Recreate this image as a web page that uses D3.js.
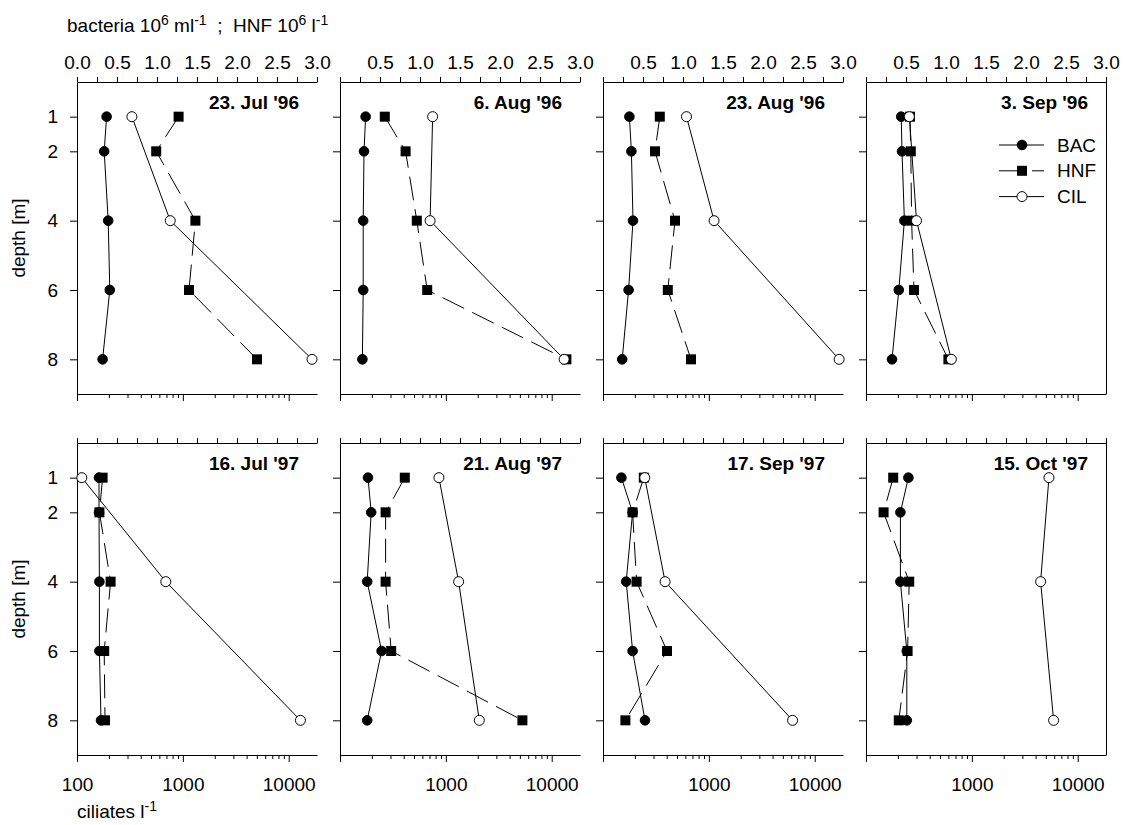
<!DOCTYPE html>
<html>
<head>
<meta charset="utf-8">
<script src="https://cdn.jsdelivr.net/npm/d3@7"></script>
<style>
  body { margin: 0; background: #fff; }
  svg text { font-family: 'Liberation Sans', Arial, sans-serif; font-size: 19px; fill: #000; }
  .axis text { font-family: 'Liberation Sans', Arial, sans-serif; font-size: 19px; fill: #000; }
  .axis path, .axis line { stroke: #000; stroke-width: 1; }
  .title { font-weight: bold; }
</style>
</head>
<body>
<svg id="chart" width="1136" height="825"></svg>
<script>
    // sampling depths (m)
    var depths = [1, 2, 4, 6, 8];
    var cilDepths = [1, 4, 8];

    var dates = ["23. Jul '96", "6. Aug '96", "23. Aug '96", "3. Sep '96",
                 "16. Jul '97", "21. Aug '97", "17. Sep '97", "15. Oct '97"];

    // bacteria 10^6 ml^-1, per date, per depth
    var bac = [
        [0.37, 0.34, 0.39, 0.41, 0.32],
        [0.32, 0.30, 0.29, 0.29, 0.28],
        [0.33, 0.355, 0.375, 0.32, 0.24],
        [0.44, 0.45, 0.48, 0.41, 0.325],
        [0.275, 0.275, 0.28, 0.28, 0.30],
        [0.35, 0.39, 0.34, 0.52, 0.34],
        [0.23, 0.37, 0.29, 0.37, 0.525],
        [0.53, 0.43, 0.43, 0.51, 0.51]
    ];

    // HNF 10^6 l^-1
    var hnf = [
        [1.27, 0.99, 1.48, 1.40, 2.25],
        [0.56, 0.82, 0.96, 1.09, 2.83],
        [0.71, 0.65, 0.90, 0.81, 1.10],
        [0.55, 0.56, 0.57, 0.60, 1.03],
        [0.32, 0.28, 0.42, 0.34, 0.35],
        [0.81, 0.57, 0.57, 0.64, 2.28],
        [0.51, 0.37, 0.42, 0.80, 0.28],
        [0.34, 0.22, 0.54, 0.52, 0.41]
    ];

    // ciliates l^-1 at 1, 4, 8 m
    var cil = [
        [330, 760, 16600],
        [750, 710, 13100],
        [615, 1120, 17000],
        [257, 300, 640],
        [111, 690, 12900],
        [860, 1320, 2070],
        [248, 386, 6180],
        [5350, 4460, 5920]
    ];

    var topTicks = [0, 0.25, 0.5, 0.75, 1, 1.25, 1.5, 1.75, 2, 2.25, 2.5, 2.75, 3];
    var topTickLabels = ["0.0", "0.5", "1.0", "1.5", "2.0", "2.5", "3.0"];
    var cilTickLabels = [100, 1000, 10000];
    var depthTicks = [1, 2, 4, 6, 8];
    var legendNames = ["BAC", "HNF", "CIL"];

    var panelW = 240, panelH = 312;
    var left0 = 77, top0 = 82, colStep = 263, rowStep = 361;

    var svg = d3.select('#chart');

    var x = d3.scaleLinear().domain([0, 3]).range([0, panelW]);
    var xc = d3.scaleLog().domain([100, 18500]).range([0, panelW]);
    var y = d3.scaleLinear().domain([0, 9]).range([0, panelH]);

    var lineBH = d3.line()
        .x(function (d) { return x(d.v); })
        .y(function (d) { return y(d.d); });
    var lineC = d3.line()
        .x(function (d) { return xc(d.v); })
        .y(function (d) { return y(d.d); });

    function circle(g, cx, cy, filled) {
        g.append('circle')
            .attr('cx', cx).attr('cy', cy)
            .attr('r', filled ? 4.8 : 5)
            .attr('fill', filled ? '#000' : '#fff')
            .attr('stroke', '#000').attr('stroke-width', 1);
    }
    function square(g, cx, cy) {
        g.append('rect')
            .attr('x', cx - 5).attr('y', cy - 5)
            .attr('width', 10).attr('height', 10)
            .attr('fill', '#000');
    }

    dates.forEach(function (date, i) {
        var col = i % 4, row = Math.floor(i / 4);
        var g = svg.append('g')
            .attr('transform', 'translate(' + (left0 + col * colStep) + ',' + (top0 + row * rowStep) + ')');

        // top axis (bacteria / HNF)
        g.append('g').attr('class', 'axis')
            .call(d3.axisTop(x).tickValues(topTicks).tickSize(5).tickSizeOuter(0).tickPadding(8)
                .tickFormat(function (d) {
                    if (row !== 0 || d % 0.5 !== 0) return '';
                    if (col > 0 && d === 0) return '';
                    return topTickLabels[d / 0.5];
                }));

        // bottom axis (ciliates, log)
        var bottom = g.append('g').attr('class', 'axis')
            .attr('transform', 'translate(0,' + panelH + ')')
            .call(d3.axisBottom(xc).tickValues(xc.ticks()).tickSize(7).tickSizeOuter(0).tickPadding(16)
                .tickFormat(function (d) {
                    if (row !== 1 || cilTickLabels.indexOf(d) < 0) return '';
                    if (col > 0 && d === 100) return '';
                    return d;
                }));
        bottom.selectAll('.tick line')
            .attr('y2', function (d) { return cilTickLabels.indexOf(d) < 0 ? 4 : 7; });

        // depth axis
        g.append('g').attr('class', 'axis')
            .call(d3.axisLeft(y).tickValues(depthTicks).tickSize(7).tickSizeOuter(0).tickPadding(12)
                .tickFormat(function (d) { return col === 0 ? d : ''; }));

        if (col === 3) {
            g.append('line')
                .attr('x1', panelW + 0.5).attr('x2', panelW + 0.5)
                .attr('y1', 0).attr('y2', panelH)
                .attr('stroke', '#000');
        }

        var bacPts = depths.map(function (d, k) { return { d: d, v: bac[i][k] }; });
        var hnfPts = depths.map(function (d, k) { return { d: d, v: hnf[i][k] }; });
        var cilPts = cilDepths.map(function (d, k) { return { d: d, v: cil[i][k] }; });

        g.append('path').attr('d', lineBH(bacPts))
            .attr('fill', 'none').attr('stroke', '#000').attr('stroke-width', 1);
        bacPts.forEach(function (p) { circle(g, x(p.v), y(p.d), true); });

        g.append('path').attr('d', lineBH(hnfPts))
            .attr('fill', 'none').attr('stroke', '#000').attr('stroke-width', 1)
            .attr('stroke-dasharray', '24,9');
        hnfPts.forEach(function (p) { square(g, x(p.v), y(p.d)); });

        g.append('path').attr('d', lineC(cilPts))
            .attr('fill', 'none').attr('stroke', '#000').attr('stroke-width', 1);
        cilPts.forEach(function (p) { circle(g, xc(p.v), y(p.d), false); });

        // panel title
        g.append('text').attr('class', 'title')
            .attr('x', panelW - 18).attr('y', 27)
            .attr('text-anchor', 'end')
            .text(date);

        // legend only in the last panel of the first row
        if (i === 3) {
            legendNames.forEach(function (name, k) {
                var ly = 63 + k * 25.8;
                var lg = g.append('g');
                lg.append('line')
                    .attr('x1', 133).attr('x2', 178).attr('y1', ly).attr('y2', ly)
                    .attr('stroke', '#000')
                    .attr('stroke-dasharray', name === 'HNF' ? '24,9' : null);
                if (name === 'BAC') circle(lg, 156, ly, true);
                if (name === 'HNF') square(lg, 156, ly);
                if (name === 'CIL') circle(lg, 156, ly, false);
                lg.append('text')
                    .attr('x', 191).attr('y', ly).attr('dy', '0.35em')
                    .text(name);
            });
        }
    });

    // depth labels
    [0, 1].forEach(function (row) {
        svg.append('text')
            .attr('transform', 'translate(25,' + (top0 + row * rowStep + panelH / 2) + ') rotate(-90)')
            .attr('text-anchor', 'middle')
            .text('depth [m]');
    });

    // top axis title
    var t = svg.append('text').attr('x', 67).attr('y', 32).style('white-space', 'pre');
    t.append('tspan').text('bacteria 10');
    t.append('tspan').attr('dy', -7).style('font-size', '14px').text('6');
    t.append('tspan').attr('dy', 7).text(' ml');
    t.append('tspan').attr('dy', -7).style('font-size', '14px').text('-1');
    t.append('tspan').attr('dy', 7).text('  ;  HNF 10');
    t.append('tspan').attr('dy', -7).style('font-size', '14px').text('6');
    t.append('tspan').attr('dy', 7).text(' l');
    t.append('tspan').attr('dy', -7).style('font-size', '14px').text('-1');

    // bottom axis title
    var b = svg.append('text').attr('x', 77).attr('y', 818);
    b.append('tspan').text('ciliates l');
    b.append('tspan').attr('dy', -7).style('font-size', '14px').text('-1');
</script>
</body>
</html>
